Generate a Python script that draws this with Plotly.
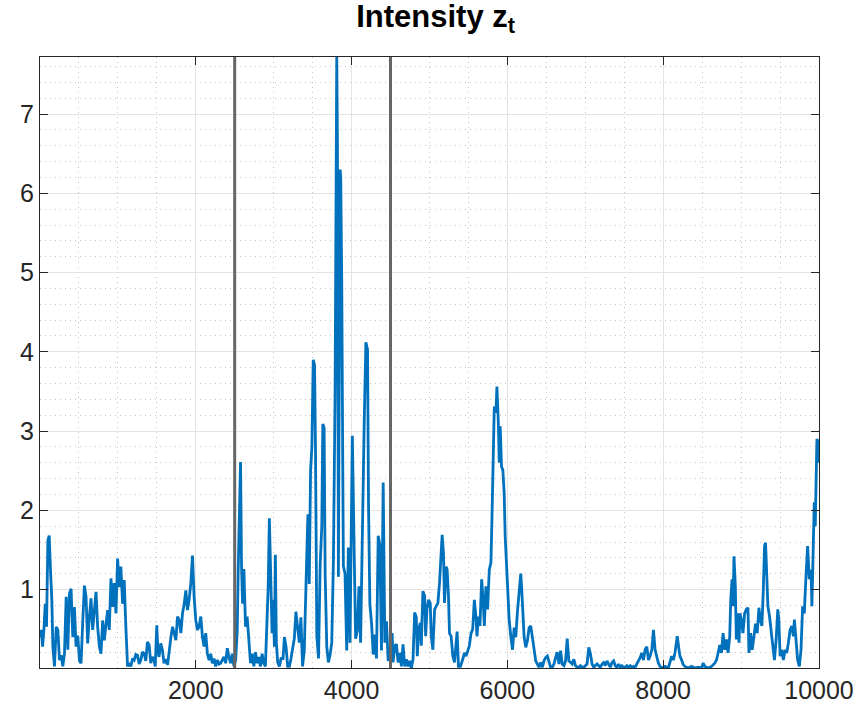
import plotly.graph_objects as go

# time index (sample number) and intensity values
t = [1,17,34,51,68,85,102,119,136,153,166,187,209,230,251,273,294,315,337,358,
     379,400,422,443,464,486,507,528,550,571,592,613,635,656,677,699,720,741,763,784,
     805,826,848,869,890,912,933,954,976,997,1018,1039,1061,1082,1103,1125,
     1146,1167,1189,1210,1231,1252,1274,1295,1316,1338,1359,1380,1402,1423,1444,1465,1480,1500,1515,1529,1551,1572,1593,1617,1639,
     1660,1681,1703,1724,1745,1766,1788,1809,1830,1852,1873,1894,1915,1937,1958,1979,2001,2022,2043,2065,
     2086,2107,2128,2150,2171,2192,2213,2235,2256,2277,2300,2320,2341,2362,2384,2405,2426,2448,2469,2490,
     2512,2533,2545,2558,2575,2588,2601,2618,2639,2660,2682,2703,2724,2746,2767,2788,2809,2831,2852,2873,
     2894,2916,2930,2945,2965,2980,2992,3010,3022,3035,3052,3074,3095,3120,3138,3159,3180,3202,3223,3244,
     3265,3286,3308,3329,3350,3371,3393,3406,3418,3440,3457,3474,3491,3508,3525,3537,3554,3576,3597,3618,
     3631,3648,3661,3682,3703,3725,3746,3767,3789,3810,3819,3831,3844,3853,3861,3874,3887,3895,3916,3938,
     3959,3980,4010,4031,4052,4074,4095,4116,4142,4163,4184,4205,4218,4235,4257,4278,4299,4320,4342,4363,
     4384,4406,4427,4448,4470,4490,4521,4533,4555,4576,4597,4619,4640,4661,4682,4704,4725,4746,4767,4789,
     4810,4831,4844,4861,4883,4895,4916,4938,4951,4968,4989,5010,5023,5044,5066,5087,5108,5129,5151,5163,
     5180,5193,5214,5227,5244,5257,5278,5300,5321,5342,5355,5372,5398,5427,5449,5470,5491,5512,5534,5555,
     5576,5597,5610,5627,5648,5670,5691,5704,5725,5746,5768,5789,5802,5819,5832,5853,5866,5883,5896,5908,
     5925,5942,5959,5972,5989,6002,6023,6044,6066,6087,6108,6130,6151,6172,6185,6202,6215,6236,6257,6279,
     6300,6321,6342,6364,6385,6406,6428,6449,6470,6491,6513,6534,6555,6577,6598,6619,6640,6662,6683,6704,
     6726,6747,6768,6789,6811,6832,6853,6874,6896,6917,6938,6960,6981,7002,7023,7045,7066,7087,7109,7130,
     7151,7172,7194,7215,7236,7257,7279,7300,7321,7343,7364,7385,7406,7428,7449,7470,7491,7513,7534,7555,
     7577,7598,7619,7640,7662,7683,7704,7726,7747,7768,7790,7811,7832,7854,7875,7896,7917,7939,7960,7981,
     8024,8066,8109,8130,8151,8181,8203,8215,8237,8258,8279,8322,8364,8407,8450,8492,8513,8535,8577,8620,
     8662,8684,8705,8726,8747,8769,8790,8811,8833,8854,8867,8884,8896,8909,8926,8939,8960,8973,8986,9003,
     9024,9045,9067,9088,9101,9122,9143,9165,9186,9207,9229,9246,9267,9284,9301,9314,9327,9344,9365,9386,
     9407,9428,9450,9471,9484,9501,9522,9543,9565,9586,9607,9629,9650,9671,9684,9705,9726,9748,9769,9790,
     9811,9833,9854,9875,9897,9909,9926,9939,9952,9960,9973,9990,10000]

z = [0.40,0.49,0.28,0.49,0.82,0.53,1.62,1.68,1.24,0.87,0.28,0.03,0.53,0.49,0.11,0.17,0.03,0.19,0.91,0.24,
     0.95,1.01,0.40,0.78,0.28,0.42,0.11,0.07,0.61,1.05,0.91,0.32,0.66,0.89,0.49,0.78,0.97,0.53,0.28,0.19,
     0.61,0.36,0.57,0.74,0.49,1.14,0.78,1.08,0.70,1.39,1.03,1.29,0.82,1.12,0.53,0.03,
     0.07,0.03,0.13,0.11,0.18,0.17,0.06,0.11,0.21,0.19,0.10,0.34,0.30,0.07,0.15,0.11,0.03,0.55,0.22,0.15,0.32,0.24,0.07,0.12,0.05,
     0.24,0.40,0.53,0.45,0.36,0.66,0.61,0.45,0.70,0.82,0.99,0.74,0.87,1.08,1.43,0.91,0.61,0.49,0.53,0.66,
     0.40,0.28,0.45,0.19,0.11,0.19,0.07,0.13,0.03,0.11,0.06,0.07,0.12,0.15,0.07,0.26,0.15,0.07,0.19,0.03,
     0.11,0.49,1.24,2.00,2.61,1.29,0.82,1.26,0.53,0.66,0.28,0.07,0.19,0.03,0.21,0.07,0.15,0.03,0.19,0.07,
     0.03,0.61,1.03,1.90,1.20,0.45,0.87,0.28,1.44,0.33,0.08,0.03,0.13,0.13,0.40,0.28,0.03,0.03,0.13,0.28,
     0.38,0.72,0.47,0.33,0.65,0.03,0.23,0.92,1.16,1.95,1.07,2.50,2.80,3.90,3.83,2.80,0.42,0.13,1.31,1.80,
     3.09,3.04,1.21,0.28,0.08,0.18,0.33,1.36,3.53,7.72,6.64,1.16,4.50,6.30,6.20,4.90,2.60,1.30,1.20,0.23,
     1.53,0.33,2.94,1.31,0.38,0.48,1.04,0.33,2.05,3.14,4.12,4.03,2.05,0.82,0.57,0.18,0.43,0.13,1.68,1.56,
     0.23,2.35,0.33,0.60,0.10,0.20,0.45,0.08,0.29,0.31,0.08,0.20,0.03,0.31,0.03,0.12,0.03,0.10,0.01,0.12,
     0.71,0.65,0.16,0.50,0.58,0.29,0.98,0.92,0.41,0.75,0.87,0.83,0.41,0.24,0.75,0.79,0.83,1.08,1.50,1.69,
     1.46,0.83,1.29,1.25,0.92,0.45,0.41,0.16,0.08,0.33,0.47,0.03,0.03,0.12,0.20,0.16,0.24,0.29,0.45,0.50,
     0.87,0.66,0.41,0.66,0.54,1.13,0.83,0.54,1.04,0.75,1.25,1.34,1.88,2.51,3.31,3.23,3.56,3.14,2.60,3.06,
     2.55,2.51,2.22,1.67,1.25,0.92,0.62,0.41,0.24,0.52,0.40,0.73,0.99,1.20,0.99,0.61,0.40,0.27,0.35,0.52,
     0.54,0.40,0.23,0.10,0.06,0.02,0.08,0.02,0.10,0.14,0.16,0.10,0.02,0.02,0.06,0.14,0.21,0.06,0.23,0.06,
     0.04,0.10,0.38,0.10,0.08,0.06,0.12,0.04,0.02,0.02,0.04,0.02,0.02,0.04,0.06,0.27,0.19,0.06,0.02,0.04,
     0.06,0.04,0.02,0.06,0.08,0.04,0.10,0.06,0.02,0.08,0.10,0.04,0.02,0.06,0.02,0.04,0.02,0.02,0.04,0.02,
     0.04,0.02,0.03,0.02,0.06,0.10,0.14,0.20,0.11,0.24,0.28,0.11,0.16,0.24,0.49,0.24,0.16,0.07,0.03,0.01,
     0.03,0.01,0.16,0.11,0.20,0.41,0.24,0.16,0.11,0.05,0.03,0.01,0.03,0.01,0.02,0.01,0.07,0.03,0.01,0.03,
     0.07,0.11,0.20,0.30,0.20,0.45,0.24,0.37,0.20,0.41,0.87,1.13,0.79,1.42,1.04,0.37,0.70,0.33,0.70,0.62,
     0.45,0.70,0.75,0.77,0.20,0.45,0.24,0.45,0.57,0.45,0.77,0.62,0.54,0.96,1.55,1.59,1.13,0.79,0.66,0.45,
     0.28,0.11,0.37,0.75,0.62,0.16,0.24,0.11,0.24,0.20,0.33,0.49,0.54,0.41,0.62,0.41,0.11,0.03,0.24,0.79,
     0.70,1.17,1.55,1.13,1.25,0.79,1.76,2.10,1.80,2.52,2.90,2.85,2.60]

change_points = [2500, 4500]
x_ticks = [2000, 4000, 6000, 8000, 10000]
y_ticks = [1, 2, 3, 4, 5, 6, 7]

fig = go.Figure()
fig.add_trace(go.Scatter(x=t, y=z, mode="lines",
                         line=dict(color="#0072BD", width=2.8),
                         showlegend=False, hoverinfo="skip"))

for cp in change_points:
    fig.add_shape(type="line", xref="x", yref="paper", x0=cp, x1=cp, y0=0, y1=1,
                  line=dict(color="#666666", width=3), layer="above")

axis_common = dict(
    showline=True, linecolor="#262626", linewidth=1, mirror="ticks",
    ticks="inside", ticklen=8, tickcolor="#262626", tickwidth=1,
    showgrid=True, gridcolor="#e3e3e3", gridwidth=1,
    zeroline=False,
    tickfont=dict(family="Liberation Sans, Arial, sans-serif", size=25, color="#262626"),
)

fig.update_xaxes(range=[1, 10000], tickvals=x_ticks, ticktext=[str(v) for v in x_ticks],
                 minor=dict(dtick=500, tick0=0, showgrid=True, gridcolor="#c4c4c4",
                            griddash="1px,4px", gridwidth=1, ticks=""),
                 **axis_common)
fig.update_yaxes(range=[0.01, 7.72], tickvals=y_ticks, ticktext=[str(v) for v in y_ticks],
                 minor=dict(dtick=0.2, tick0=0, showgrid=True, gridcolor="#c4c4c4",
                            griddash="1px,4px", gridwidth=1, ticks=""),
                 **axis_common)

fig.update_layout(
    width=866, height=717,
    margin=dict(l=40, r=43, t=57, b=49),
    paper_bgcolor="white", plot_bgcolor="white",
    title=dict(text="<b>Intensity z<sub>t</sub></b>", x=0.503, xanchor="center",
               y=1 - 5 / 717, yanchor="top", yref="container",
               font=dict(family="Liberation Sans Narrow, Liberation Sans, Arial, sans-serif",
                         size=31, color="#000000")),
)

fig.write_html("out.html")
